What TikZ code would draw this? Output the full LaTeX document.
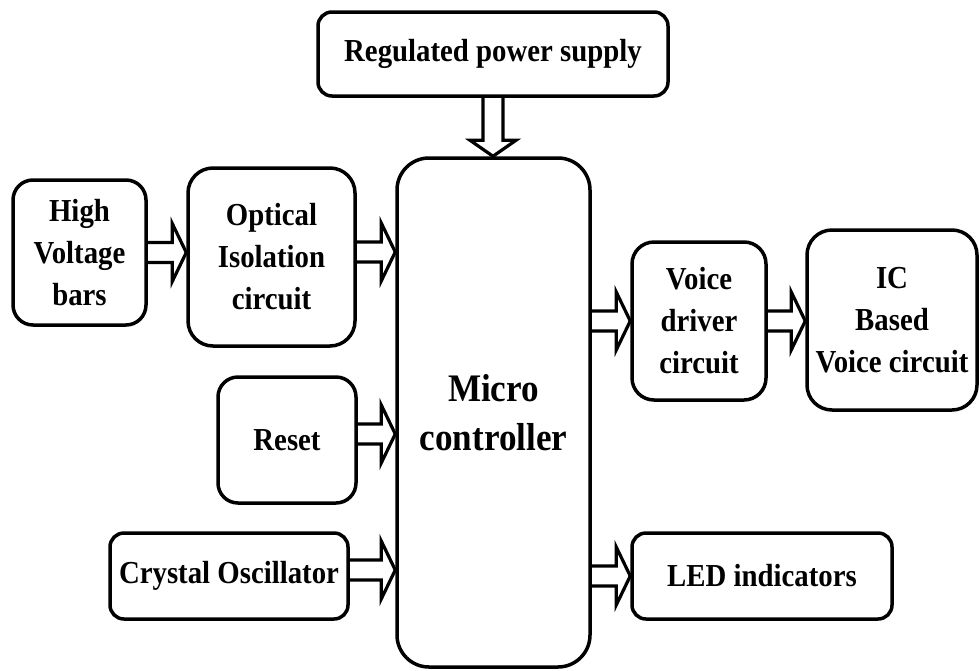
\documentclass[tikz,border=0pt]{standalone}
\usepackage{fontspec}
\setmainfont{Liberation Serif}[FakeStretch=0.9]
\usetikzlibrary{calc}
\begin{document}
\begin{tikzpicture}[x=1pt,y=-1pt,
  blk/.style={draw, line width=3.5pt, rounded corners=#1, inner sep=0pt, align=center,
    font=\fontsize{32}{42}\selectfont\bfseries},
  blk/.default=18pt,
  harrow/.style={line width=3.2pt, line join=miter,
    to path={let \p1=(\tikztostart), \p2=(\tikztotarget) in
      (\x1,\y1+10pt) -- (\x2-14pt,\y1+10pt) -- (\x2-14pt,\y1+29pt) -- (\x2,\y1)
      -- (\x2-14pt,\y1-29pt) -- (\x2-14pt,\y1-10pt) -- (\x1,\y1-10pt)}},
  varrow/.style={line width=3.2pt, line join=miter,
    to path={let \p1=(\tikztostart), \p2=(\tikztotarget) in
      (\x1-10pt,\y1) -- (\x1-10pt,\y2+16pt) -- (\x1-23pt,\y2+16pt) -- (\x1,\y2)
      -- (\x1+23pt,\y2+16pt) -- (\x1+10pt,\y2+16pt) -- (\x1+10pt,\y1)}}
]
\useasboundingbox (0,0) rectangle (979,670);

\node[blk=14pt, minimum width=350pt, minimum height=84pt] (rps) at (493,54) {Regulated power supply};
\node[blk=32pt, minimum width=193pt, minimum height=509pt,
      font=\fontsize{39}{49}\selectfont\bfseries] (mc) at (493.5,412.5) {Micro\\controller};
\node[blk=20pt, minimum width=133pt, minimum height=145pt] (hv) at (79.5,252.5) {High\\Voltage\\bars};
\node[blk=25pt, minimum width=167pt, minimum height=178pt] (opt) at (271.5,257) {Optical\\Isolation\\circuit};
\node[blk=20pt, minimum width=138pt, minimum height=126pt] (reset) at (287,440) {Reset};
\node[blk=14pt, minimum width=238pt, minimum height=86pt] (xtal) at (229,576) {Crystal Oscillator};
\node[blk=22pt, minimum width=134pt, minimum height=158pt] (voice) at (699,321) {Voice\\driver\\circuit};
\node[blk=25pt, minimum width=170pt, minimum height=180pt] (ic) at (892,320) {IC\\Based\\Voice circuit};
\node[blk=14pt, minimum width=260pt, minimum height=86pt] (led) at (762,576) {LED indicators};

\draw[varrow] (rps.south) to (mc.north);
\draw[harrow] (hv.east) to (opt.west);
\draw[harrow] ([yshift=5pt]opt.east) to (mc.west);
\draw[harrow] ([yshift=6pt]reset.east) to (mc.west);
\draw[harrow] ([yshift=6pt]xtal.east) to (mc.west);
\draw[harrow] (mc.east |- voice.west) to (voice.west);
\draw[harrow] (voice.east) to (ic.west);
\draw[harrow] (mc.east |- led.west) to (led.west);
\end{tikzpicture}
\end{document}
